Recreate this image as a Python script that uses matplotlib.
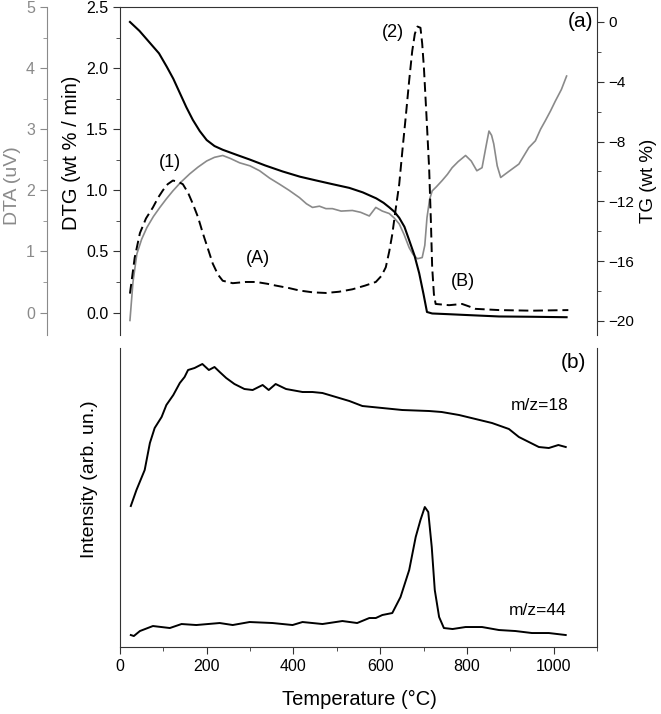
import matplotlib
matplotlib.use("Agg")
import matplotlib.pyplot as plt
from matplotlib.ticker import MultipleLocator, NullLocator, FormatStrFormatter

plt.rcParams['font.family'] = ['Liberation Sans', 'DejaVu Sans']

# ---------------- data ----------------
tg_T = [23, 45, 69, 90, 108, 123, 138, 153, 168, 184, 200, 218, 237, 270,
        299, 335, 375, 415, 452, 490, 529, 560, 591, 608, 621, 633, 644, 656,
        667, 679, 690, 700, 708, 720, 760, 797, 874, 950, 1030]
tg_val = [0.0, -0.6, -1.4, -2.1, -3.0, -3.8, -4.75, -5.7, -6.55, -7.3, -7.9,
          -8.3, -8.55, -8.9, -9.2, -9.6, -10.0, -10.35, -10.6, -10.85, -11.1,
          -11.4, -11.8, -12.1, -12.4, -12.7, -13.1, -13.7, -14.6, -15.6,
          -16.8, -18.2, -19.4, -19.5, -19.55, -19.6, -19.7, -19.72, -19.75]

dtg_T = [23, 34, 46, 60, 76, 88, 99, 110, 122, 134, 145, 157, 168, 180, 191,
         203, 214, 226, 237, 260, 290, 314, 340, 360, 390, 414, 445, 475,
         505, 536, 565, 590, 603, 613, 621, 628, 636, 644, 652, 659, 667,
         674, 680, 686, 693, 697, 701, 707, 713, 717, 720, 724, 728, 759,
         789, 805, 820, 874, 950, 1034]
dtg_val = [0.155, 0.45, 0.65, 0.77, 0.86, 0.94, 1.0, 1.05, 1.08, 1.07, 1.05,
           0.98, 0.89, 0.78, 0.65, 0.52, 0.40, 0.31, 0.26, 0.24, 0.25, 0.25,
           0.235, 0.22, 0.2, 0.18, 0.165, 0.16, 0.17, 0.19, 0.22, 0.25, 0.3,
           0.37, 0.5, 0.64, 0.85, 1.05, 1.35, 1.6, 1.9, 2.14, 2.28, 2.34,
           2.33, 2.2, 2.0, 1.6, 1.18, 0.75, 0.37, 0.15, 0.07, 0.06, 0.07,
           0.05, 0.03, 0.02, 0.015, 0.02]

dta_T = [23, 30, 39, 50, 62, 77, 92, 107, 122, 140, 161, 180, 200, 218, 237,
         255, 276, 300, 322, 345, 368, 390, 414, 430, 444, 460, 475, 490,
         510, 536, 555, 575, 590, 605, 621, 632, 644, 655, 667, 676, 686,
         697, 703, 708, 714, 720, 730, 743, 755, 766, 780, 797, 810, 823,
         835, 845, 851, 857, 862, 870, 878, 895, 920, 943, 958, 970, 981,
         993, 1004, 1018, 1030]
dta_val = [-0.13, 0.5, 0.96, 1.2, 1.39, 1.57, 1.72, 1.86, 1.99, 2.13, 2.27,
           2.38, 2.48, 2.54, 2.57, 2.52, 2.45, 2.40, 2.32, 2.2, 2.1, 2.0, 1.88,
           1.78, 1.72, 1.74, 1.70, 1.7, 1.66, 1.67, 1.64, 1.58, 1.72, 1.66,
           1.62, 1.55, 1.45, 1.28, 1.06, 0.95, 0.88, 0.9, 1.1, 1.55, 1.85,
           1.99, 2.06, 2.16, 2.26, 2.37, 2.47, 2.57, 2.48, 2.32, 2.37, 2.75,
           2.97, 2.9, 2.76, 2.4, 2.21, 2.3, 2.43, 2.7, 2.81, 3.0, 3.14, 3.3,
           3.46, 3.65, 3.87]

ms18_T = [25, 38, 57, 69, 80, 96, 107, 123, 138, 149, 157, 172, 190, 205,
          218, 230, 245, 264, 287, 306, 329, 343, 359, 383, 421, 444, 467,
          498, 529, 559, 605, 651, 713, 742, 782, 820, 858, 897, 920, 943,
          966, 989, 1011, 1028]
ms18_val = [1.41, 1.57, 1.77, 2.04, 2.19, 2.30, 2.42, 2.52, 2.64, 2.70, 2.77,
            2.79, 2.83, 2.77, 2.80, 2.75, 2.69, 2.63, 2.58, 2.57, 2.62, 2.57,
            2.63, 2.58, 2.55, 2.55, 2.54, 2.50, 2.46, 2.41, 2.39, 2.37, 2.36,
            2.35, 2.32, 2.28, 2.24, 2.18, 2.10, 2.05, 2.00, 1.99, 2.02, 2.00]

ms44_T = [25, 32, 46, 76, 115, 142, 176, 230, 260, 299, 352, 398, 421, 467,
          513, 547, 575, 590, 605, 628, 647, 667, 682, 693, 703, 711, 719,
          726, 736, 747, 767, 797, 835, 874, 912, 950, 989, 1028]
ms44_val = [0.12, 0.11, 0.16, 0.21, 0.19, 0.23, 0.22, 0.24, 0.22, 0.25, 0.24,
            0.22, 0.25, 0.23, 0.26, 0.24, 0.29, 0.29, 0.32, 0.34, 0.50, 0.77,
            1.10, 1.27, 1.40, 1.35, 1.00, 0.57, 0.30, 0.19, 0.18, 0.20, 0.20,
            0.17, 0.16, 0.14, 0.14, 0.12]

x_ticks = [0, 200, 400, 600, 800, 1000]

# ---------------- styling ----------------
GRAY = '#8a8a8a'
SPINE = '#333333'
TICK_FS = 11.5
LABEL_FS = 14.5

fig = plt.figure(figsize=(6.61, 7.14), dpi=100)
ax = fig.add_axes([0.1815, 0.5308, 0.7216, 0.4594])
axb = fig.add_axes([0.1815, 0.0938, 0.7216, 0.4188])

# ---- top panel ----
ax_dta = ax.twinx()
ax_tg = ax.twinx()

ax.set_zorder(3)
ax.patch.set_visible(False)
ax_tg.set_zorder(2)
ax_tg.patch.set_visible(False)
ax_dta.set_zorder(1)

ax_dta.plot(dta_T, dta_val, color=GRAY, lw=1.2)
ax_tg.plot(tg_T, tg_val, color='black', lw=1.5)
ax.plot(dtg_T, dtg_val, color='black', lw=1.4, dashes=(5, 2.5))

for a in (ax, ax_dta, ax_tg):
    a.set_xlim(0, 1100)
    a.xaxis.set_major_locator(NullLocator())
    a.xaxis.set_minor_locator(NullLocator())

ax.set_ylim(-0.184, 2.5)
ax_dta.set_ylim(-0.368, 5)
ax_tg.set_ylim(-20.94, 1.0)

# spines
ax.spines['bottom'].set_visible(False)
ax.spines['right'].set_visible(False)
ax.spines['top'].set_color(SPINE)
ax.spines['left'].set_color(SPINE)
for s in ('top', 'bottom', 'right'):
    ax_dta.spines[s].set_visible(False)
ax_dta.spines['left'].set_visible(True)
ax_dta.spines['left'].set_position(('outward', 52.6))
ax_dta.spines['left'].set_color(GRAY)
ax_dta.yaxis.set_ticks_position('left')
ax_dta.yaxis.set_label_position('left')
for s in ('top', 'bottom', 'left'):
    ax_tg.spines[s].set_visible(False)
ax_tg.spines['right'].set_color(SPINE)

ax.yaxis.set_major_locator(MultipleLocator(0.5))
ax.yaxis.set_minor_locator(MultipleLocator(0.25))
ax.yaxis.set_major_formatter(FormatStrFormatter('%.1f'))
ax_dta.yaxis.set_major_locator(MultipleLocator(1))
ax_dta.yaxis.set_minor_locator(MultipleLocator(0.5))
ax_tg.yaxis.set_major_locator(MultipleLocator(4))
ax_tg.yaxis.set_minor_locator(MultipleLocator(2))

ax.tick_params(axis='y', which='major', length=5, labelsize=TICK_FS, color=SPINE)
ax.tick_params(axis='y', which='minor', length=3, color=SPINE)
ax_dta.tick_params(axis='y', which='major', length=5, labelsize=TICK_FS,
                   color=GRAY, labelcolor=GRAY)
ax_dta.tick_params(axis='y', which='minor', length=3, color=GRAY)
ax_tg.tick_params(axis='y', which='major', length=5, labelsize=11, color=SPINE,
                  pad=3)
ax_tg.tick_params(axis='y', which='minor', length=3, color=SPINE)

ax.set_ylabel('DTG (wt % / min)', fontsize=LABEL_FS)
ax.yaxis.set_label_coords(-0.082, 0.555)
ax_dta.set_ylabel('DTA (uV)', fontsize=14, color=GRAY)
ax_dta.yaxis.set_label_coords(-0.2075, 0.454)
ax_tg.set_ylabel('TG (wt %)', fontsize=13.5)
ax_tg.yaxis.set_label_coords(1.09, 0.47)

ANN_FS = 13
ax.text(115, 1.23, '(1)', fontsize=ANN_FS, ha='center', va='center')
ax.text(318, 0.446, '(A)', fontsize=ANN_FS, ha='center', va='center')
ax.text(630, 2.29, '(2)', fontsize=ANN_FS, ha='center', va='center')
ax.text(791, 0.25, '(B)', fontsize=ANN_FS, ha='center', va='center')
ax.text(1061, 2.38, '(a)', fontsize=15, ha='center', va='center')

# ---- bottom panel ----
axb.plot(ms18_T, ms18_val, color='black', lw=1.4)
axb.plot(ms44_T, ms44_val, color='black', lw=1.4)
axb.set_xlim(0, 1100)
axb.set_ylim(0, 2.99)
axb.set_xticks(x_ticks)
axb.xaxis.set_minor_locator(MultipleLocator(100))
axb.yaxis.set_major_locator(NullLocator())
axb.yaxis.set_minor_locator(NullLocator())
axb.spines['top'].set_visible(False)
for s in ('left', 'right', 'bottom'):
    axb.spines[s].set_color(SPINE)
axb.tick_params(axis='x', which='major', length=5, labelsize=TICK_FS, color=SPINE)
axb.tick_params(axis='x', which='minor', length=3, color=SPINE)
axb.set_xlabel('Temperature (°C)', fontsize=LABEL_FS)
axb.xaxis.set_label_coords(0.503, -0.144)
axb.set_ylabel('Intensity (arb. un.)', fontsize=14)
axb.yaxis.set_label_coords(-0.046, 0.56)

axb.text(1045, 2.85, '(b)', fontsize=15, ha='center', va='center')
axb.text(969, 2.42, 'm/z=18', fontsize=12.5, ha='center', va='center')
axb.text(964, 0.37, 'm/z=44', fontsize=12.5, ha='center', va='center')

fig.savefig('out.png', dpi=100)
